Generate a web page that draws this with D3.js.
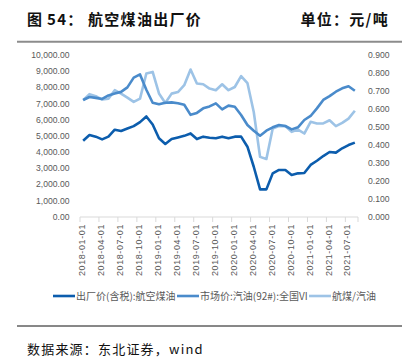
<!DOCTYPE html>
<html><head><meta charset="utf-8">
<script src="https://cdn.jsdelivr.net/npm/d3@7"></script>
<style>
body{margin:0;background:#fff;}
svg{display:block;}
</style>
</head><body>
<svg id="c" width="417" height="358"></svg>
<script>
// ---------- data ----------
const startMonth = "2018-01";
const monthCount = 44; // 2018-01 .. 2021-08
const tickLabels = ["2018-01-01","2018-04-01","2018-07-01","2018-10-01","2019-01-01","2019-04-01","2019-07-01","2019-10-01","2020-01-01","2020-04-01","2020-07-01","2020-10-01","2021-01-01","2021-04-01","2021-07-01"];
const leftTicks = [0,1000,2000,3000,4000,5000,6000,7000,8000,9000,10000];
const rightTicks = [0,0.1,0.2,0.3,0.4,0.5,0.6,0.7,0.8,0.9];
const seriesNames = ["出厂价(含税):航空煤油","市场价:汽油(92#):全国VI","航煤/汽油"];
const jetFuel = [4700,5050,4950,4780,4950,5380,5300,5450,5600,5850,6200,5700,4850,4500,4800,4900,5000,5150,4800,4950,4880,4850,4950,4850,4950,4950,4330,3090,1690,1690,2680,2890,2890,2580,2680,2700,3200,3460,3750,4000,3960,4230,4430,4580];
const gasoline = [7220,7400,7350,7280,7500,7620,7720,8000,8600,8800,7850,7050,6950,7050,7070,7020,6920,6300,6420,6700,6820,7010,6640,6870,6800,6290,5670,5320,5010,5320,5530,5670,5610,5400,5530,5980,6230,6700,7220,7460,7730,7940,8070,7790];
const ratio = [0.648,0.682,0.671,0.652,0.657,0.704,0.685,0.663,0.639,0.657,0.797,0.806,0.686,0.633,0.685,0.694,0.732,0.819,0.741,0.737,0.713,0.704,0.737,0.704,0.722,0.782,0.744,0.583,0.333,0.321,0.491,0.504,0.504,0.472,0.485,0.463,0.528,0.519,0.519,0.537,0.504,0.522,0.546,0.590];

const colors = ["#0C5DAD","#4A8BCB","#9DC3E6"];

const svg = d3.select("#c");
const cjk = "'Noto Sans CJK SC','Noto Sans',sans-serif";
const lat = "'Liberation Sans',Arial,sans-serif";

// title
const t = svg.append("text").attr("y",25).attr("font-family",cjk).attr("font-size",15).attr("font-weight",700).attr("fill","#111").attr("letter-spacing",1.3);
t.append("tspan").attr("x",27).text("图");
t.append("tspan").attr("x",47).text("54：");
t.append("tspan").attr("x",88).text("航空煤油出厂价");
svg.append("text").attr("x",389).attr("y",25).attr("text-anchor","end").attr("font-family",cjk).attr("font-size",15).attr("font-weight",700).attr("fill","#111").attr("letter-spacing",1.3).text("单位：元/吨");
svg.append("line").attr("x1",17).attr("x2",402).attr("y1",41.7).attr("y2",41.7).attr("stroke","#8c8c8c").attr("stroke-width",2);

// scales
const months = d3.range(monthCount);
const x = d3.scaleBand().domain(months).range([80,358]).padding(0);
const xc = i => x(i) + x.bandwidth()/2;
const yL = d3.scaleLinear().domain([0,10000]).range([216.7,55]);
const yR = d3.scaleLinear().domain([0,0.9]).range([216.7,55]);

// left axis labels
const fmtL = d3.format(",.2f");
svg.append("g").selectAll("text").data(leftTicks).join("text")
  .attr("x",69.5).attr("y",d=>yL(d)).attr("dy","0.35em").attr("text-anchor","end")
  .attr("font-family",lat).attr("font-size",8.6).attr("fill","#595959").text(d=>fmtL(d));
// right axis labels
const fmtR = d3.format(".3f");
svg.append("g").selectAll("text").data(rightTicks).join("text")
  .attr("x",368).attr("y",d=>yR(d)).attr("dy","0.35em").attr("text-anchor","start")
  .attr("font-family",lat).attr("font-size",8.6).attr("fill","#595959").text(d=>fmtR(d));

// x axis
svg.append("line").attr("x1",80).attr("x2",358).attr("y1",217).attr("y2",217).attr("stroke","#d9d9d9").attr("stroke-width",1);
const tickIdx = tickLabels.map((d,k)=>k*3);
svg.append("g").selectAll("line").data(tickIdx.concat([monthCount])).join("line")
  .attr("x1",d=>d===monthCount? 358 : x(d)).attr("x2",d=>d===monthCount? 358 : x(d))
  .attr("y1",217).attr("y2",222).attr("stroke","#d9d9d9");
svg.append("g").selectAll("text").data(tickLabels).join("text")
  .attr("transform",(d,k)=>`translate(${xc(k*3)-1.2},224) rotate(-90)`)
  .attr("text-anchor","end").attr("dy","0.35em")
  .attr("font-family",lat).attr("font-size",9).attr("letter-spacing",0.6).attr("fill","#595959").text(d=>d);

// lines
const lineL = d3.line().x((d,i)=>xc(i)).y(d=>yL(d));
const lineR = d3.line().x((d,i)=>xc(i)).y(d=>yR(d));
svg.append("path").datum(ratio).attr("d",lineR).attr("fill","none").attr("stroke",colors[2]).attr("stroke-width",2.6).attr("stroke-linejoin","round");
svg.append("path").datum(gasoline).attr("d",lineL).attr("fill","none").attr("stroke",colors[1]).attr("stroke-width",2.6).attr("stroke-linejoin","round");
svg.append("path").datum(jetFuel).attr("d",lineL).attr("fill","none").attr("stroke",colors[0]).attr("stroke-width",2.6).attr("stroke-linejoin","round");

// legend
const legX = [53,177,309];
const lg = svg.append("g").selectAll("g").data(seriesNames).join("g").attr("transform",(d,i)=>`translate(${legX[i]},296)`);
lg.append("line").attr("x1",0).attr("x2",22).attr("stroke",(d,i)=>colors[i]).attr("stroke-width",2.6);
lg.append("text").attr("x",23).attr("dy","0.35em").attr("font-family",cjk).attr("font-size",10).attr("fill","#595959").text(d=>d);

// footer
svg.append("line").attr("x1",17).attr("x2",402).attr("y1",326).attr("y2",326).attr("stroke","#111").attr("stroke-width",1);
svg.append("text").attr("x",27).attr("y",354).attr("font-family",cjk).attr("font-size",13).attr("letter-spacing",1.2).attr("fill","#111").text("数据来源：东北证券，wind");
</script>
</body></html>
